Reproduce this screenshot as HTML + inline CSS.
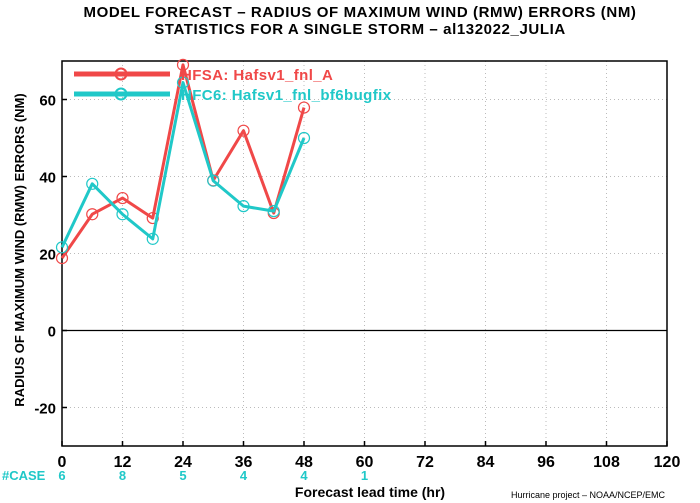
<!DOCTYPE html>
<html><head><meta charset="utf-8"><style>
html,body{margin:0;padding:0;background:#fff;}
svg{display:block;font-family:"Liberation Sans",sans-serif;font-weight:bold;}
</style></head><body>
<svg id="chart" width="700" height="503" viewBox="0 0 700 503" xmlns="http://www.w3.org/2000/svg">
<text x="360" y="17" text-anchor="middle" font-size="15" letter-spacing="0.6">MODEL FORECAST – RADIUS OF MAXIMUM WIND (RMW) ERRORS (NM)</text>
<text x="360" y="34" text-anchor="middle" font-size="15" letter-spacing="0.6">STATISTICS FOR A SINGLE STORM – al132022_JULIA</text>
<text transform="translate(24,250) rotate(-90)" text-anchor="middle" font-size="13">RADIUS OF MAXIMUM WIND (RMW) ERRORS (NM)</text>
<text x="370" y="497" text-anchor="middle" font-size="14">Forecast lead time (hr)</text>
<text x="588" y="498" text-anchor="middle" font-size="9" font-weight="normal">Hurricane project – NOAA/NCEP/EMC</text>
<text x="2" y="480" font-size="13" fill="#20c8c8">#CASE</text>
<g id="grid"></g><g id="axes"></g><g id="series"></g><g id="legend"></g>
</svg>
<script>
const xTicks=[0,12,24,36,48,60,72,84,96,108,120];
const yTicks=[-20,0,20,40,60];
const caseHours=[0,12,24,36,48,60];
const caseCounts=[6,8,5,4,4,1];
const leadHours=[0,6,12,18,24,30,36,42,48];
const hfsaValues=[18.8,30.2,34.4,29.2,69,39,51.9,30.5,57.9];
const hfc6Values=[21.6,38.1,30.2,23.8,64.4,38.9,32.3,31,50];
const seriesNames=["HFSA:  Hafsv1_fnl_A","HFC6:  Hafsv1_fnl_bf6bugfix"];
const NS="http://www.w3.org/2000/svg";
const X0=62,X1=667,Y0=61,Y1=446,XMIN=0,XMAX=120,YMIN=-30,YMAX=70;
const xs=v=>X0+(v-XMIN)/(XMAX-XMIN)*(X1-X0);
const ys=v=>Y1-(v-YMIN)/(YMAX-YMIN)*(Y1-Y0);
function mk(tag,attrs,parent){const e=document.createElementNS(NS,tag);for(const k in attrs)e.setAttribute(k,attrs[k]);parent.appendChild(e);return e;}
const grid=document.getElementById('grid'),axes=document.getElementById('axes'),ser=document.getElementById('series'),leg=document.getElementById('legend');
xTicks.forEach(t=>{
  if(t>0&&t<120){const g=mk('line',{x1:xs(t),x2:xs(t),y1:Y0,y2:Y1,stroke:'#bbb','stroke-width':1,'stroke-dasharray':'1,3'},grid);
  
  }
  const tk=mk('line',{x1:xs(t),x2:xs(t),y1:Y1,y2:Y1-5,stroke:'#000','stroke-width':1.5},axes);
  
  
  const tl=mk('text',{x:xs(t),y:Y1+21,'text-anchor':'middle','font-size':16},axes);
  
  
  tl.textContent=t;
});
yTicks.forEach(t=>{
  const g=mk('line',{x1:X0,x2:X1,y1:ys(t),y2:ys(t),stroke:t===0?'#000':'#bbb','stroke-width':t===0?1.2:1,'stroke-dasharray':t===0?'none':'1,3'},grid);
  
  
  const tk=mk('line',{x1:X0,x2:X0+5,y1:ys(t),y2:ys(t),stroke:'#000','stroke-width':1.5},axes);
  
  
  const tl=mk('text',{x:X0-6,y:ys(t)+6,'text-anchor':'end','font-size':15},axes);
  
  
  tl.textContent=t;
});
const frame=mk('rect',{x:X0,y:Y0,width:X1-X0,height:Y1-Y0,fill:'none',stroke:'#000','stroke-width':1.5},axes);


caseHours.forEach((h,i)=>{
  const c=mk('text',{x:xs(h),y:480,'text-anchor':'middle','font-size':13,fill:'#20c8c8'},axes);
  
  
  c.textContent=caseCounts[i];
});
function drawSeries(vals,color,name){
  const pts=leadHours.map((h,i)=>xs(h)+','+ys(vals[i])).join(' ');
  const pl=mk('polyline',{points:pts,fill:'none',stroke:color,'stroke-width':3,'stroke-linejoin':'round'},ser);
  
  
  leadHours.forEach((h,i)=>{
    const c=mk('circle',{cx:xs(h),cy:ys(vals[i]),r:5.5,fill:'none',stroke:color,'stroke-width':1.2},ser);
    
    
  });
}
drawSeries(hfsaValues,'#f04848','hfsa');
drawSeries(hfc6Values,'#20c8c8','hfc6');
[['#f04848',74],['#20c8c8',94]].forEach((c,i)=>{
  const l=mk('line',{x1:74,x2:170,y1:c[1],y2:c[1],stroke:c[0],'stroke-width':5},leg);
  
  
  const ci=mk('circle',{cx:121,cy:c[1],r:5.5,fill:'none',stroke:c[0],'stroke-width':2},leg);
  
  
  const t=mk('text',{x:181,y:c[1]+6,'font-size':15,fill:c[0],'letter-spacing':0.4},leg);
  
  
  t.textContent=seriesNames[i];
});
</script>
</body></html>
